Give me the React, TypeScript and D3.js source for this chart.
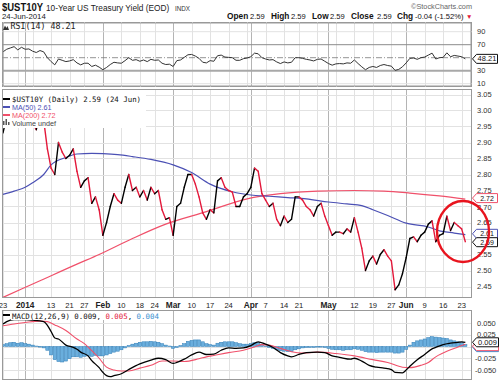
import React from "react";
import * as d3 from "d3";

// ---------- trading calendar (Dec 23 2013 .. Jun 24 2014) ----------
const decDays = [23, 24, 26, 27, 30, 31];
const janDays = [2, 3, 6, 7, 8, 9, 10, 13, 14, 15, 16, 17, 21, 22, 23, 24, 27, 28, 29, 30, 31];
const febDays = [3, 4, 5, 6, 7, 10, 11, 12, 13, 14, 18, 19, 20, 21, 24, 25, 26, 27, 28];
const marDays = [3, 4, 5, 6, 7, 10, 11, 12, 13, 14, 17, 18, 19, 20, 21, 24, 25, 26, 27, 28, 31];
const aprDays = [1, 2, 3, 4, 7, 8, 9, 10, 11, 14, 15, 16, 17, 21, 22, 23, 24, 25, 28, 29, 30];
const mayDays = [1, 2, 5, 6, 7, 8, 9, 12, 13, 14, 15, 16, 19, 20, 21, 22, 23, 27, 28, 29, 30];
const junDays = [2, 3, 4, 5, 6, 9, 10, 11, 12, 13, 16, 17, 18, 19, 20, 23, 24];

const pad = (n: number) => (n < 10 ? "0" + n : "" + n);
const tradingDays: string[] = [
  ...decDays.map((d) => `2013-12-${pad(d)}`),
  ...janDays.map((d) => `2014-01-${pad(d)}`),
  ...febDays.map((d) => `2014-02-${pad(d)}`),
  ...marDays.map((d) => `2014-03-${pad(d)}`),
  ...aprDays.map((d) => `2014-04-${pad(d)}`),
  ...mayDays.map((d) => `2014-05-${pad(d)}`),
  ...junDays.map((d) => `2014-06-${pad(d)}`),
];

// ---------- daily closes ----------
const closes = [
  2.93, 2.98, 3.0, 3.03, 2.97, 3.03, 2.99, 3.0, 2.96, 2.94,
  2.99, 2.97, 2.88, 2.82, 2.8, 2.9, 2.87, 2.85, 2.86, 2.88,
  2.81, 2.76, 2.78, 2.79, 2.71, 2.73, 2.69, 2.61, 2.65, 2.7,
  2.74, 2.72, 2.71, 2.76, 2.8, 2.75, 2.76, 2.73, 2.75, 2.72,
  2.76, 2.74, 2.75, 2.69, 2.66, 2.665, 2.61, 2.7, 2.71, 2.76,
  2.8, 2.8, 2.77, 2.73, 2.68, 2.66, 2.69, 2.68, 2.78, 2.79,
  2.76, 2.75, 2.745, 2.7, 2.7, 2.73, 2.74, 2.76, 2.82, 2.81,
  2.74, 2.72, 2.7, 2.71, 2.66, 2.64, 2.67, 2.65, 2.66, 2.73,
  2.73, 2.72, 2.7, 2.69, 2.67, 2.7, 2.71, 2.67, 2.64, 2.61,
  2.62, 2.62, 2.615, 2.63, 2.62, 2.665, 2.62, 2.57, 2.5, 2.53,
  2.545, 2.52, 2.55, 2.565, 2.545, 2.53, 2.44, 2.455, 2.49, 2.54,
  2.6, 2.605, 2.59, 2.61, 2.62, 2.645, 2.655, 2.59, 2.61, 2.615,
  2.67, 2.625, 2.65, 2.64, 2.63, 2.59,
];

// ---------- moving averages (trading-day number, value) ----------
const ma50Day = [0, 3, 6, 8, 11, 13, 17, 20, 24, 27, 31, 35, 40, 46, 51, 56, 62, 67, 72, 77, 82, 88, 93, 97, 100, 104, 109, 115, 118, 122, 125];
const ma50Val = [2.738, 2.748, 2.76, 2.774, 2.8, 2.83, 2.853, 2.864, 2.866, 2.865, 2.862, 2.856, 2.847, 2.83, 2.806, 2.77, 2.746, 2.736, 2.732, 2.728, 2.724, 2.714, 2.708, 2.703, 2.69, 2.672, 2.648, 2.636, 2.624, 2.617, 2.612];
const ma200Day = [0, 10, 20, 26, 35, 44, 55, 66, 75, 85, 95, 103, 110, 118, 125];
const ma200Val = [2.416, 2.468, 2.52, 2.55, 2.6, 2.645, 2.684, 2.724, 2.74, 2.748, 2.75, 2.748, 2.742, 2.733, 2.723];

// ---------- RSI(14) daily ----------
const rsiValues = [
  59, 63, 65, 67, 62, 66, 63, 63.5, 60, 58,
  61, 59, 50, 44, 39, 48, 46, 44, 45, 47,
  42, 39, 41.5, 41.5, 36.5, 38.5, 35.5, 31.5, 35, 39.5,
  43, 42, 41.5, 45.5, 50, 46, 47, 44.5, 46.5, 44,
  47.5, 46, 46.5, 41.5, 39.5, 40, 36.5, 45.5, 46.5, 50.5,
  54.5, 55, 52.5, 49, 43, 42, 45.5, 44.5, 53, 54,
  51, 50.5, 50, 46, 46, 48.5, 49.5, 51.5, 57, 56,
  50, 48, 46.5, 47, 43.5, 41, 43.5, 42, 43, 50,
  50, 49, 47.5, 46.5, 45, 47.5, 48, 44.5, 41, 38.5,
  40.5, 41, 40.5, 42, 41.5, 46.5, 41, 36, 31.5, 35,
  36.5, 35, 38, 39.5, 38, 37, 30.5, 32, 36, 42,
  49, 49.5, 47.5, 50, 51, 54, 57, 48, 50, 50.5,
  57.5, 51.5, 53.5, 52.5, 51.5, 48.21,
];

// ---------- MACD(12,26,9) ----------
const macdDay = [0, 1, 3, 6, 8, 11, 12, 13, 14, 15, 17, 19, 20, 21, 23, 24, 26, 27, 28, 29, 30, 32, 34, 37, 40, 42, 44, 46, 47, 49, 51, 53, 55, 57, 59, 61, 63, 65, 67, 69, 71, 73, 75, 77, 78, 80, 82, 85, 87, 89, 91, 94, 95, 97, 99, 101, 103, 105, 106, 108, 109, 110, 112, 114, 116, 117, 119, 121, 123, 124, 125];
const macdVal = [0.048, 0.053, 0.057, 0.057, 0.056, 0.053, 0.045, 0.032, 0.018, 0.016, 0.003, -0.002, -0.006, -0.012, -0.02, -0.03, -0.045, -0.055, -0.062, -0.064, -0.062, -0.058, -0.049, -0.037, -0.029, -0.025, -0.028, -0.036, -0.034, -0.027, -0.018, -0.012, -0.017, -0.016, -0.008, -0.003, -0.004, -0.003, 0.002, 0.01, 0.005, -0.002, -0.013, -0.02, -0.022, -0.017, -0.013, -0.012, -0.013, -0.02, -0.023, -0.027, -0.025, -0.031, -0.04, -0.044, -0.046, -0.049, -0.055, -0.056, -0.05, -0.042, -0.028, -0.017, -0.005, -0.002, 0.004, 0.007, 0.009, 0.01, 0.009];
const signalDay = [0, 3, 6, 10, 12, 14, 17, 20, 22, 24, 26, 28, 30, 32, 34, 37, 40, 43, 46, 49, 53, 55, 57, 61, 65, 68, 70, 72, 75, 78, 81, 85, 90, 95, 100, 104, 108, 110, 113, 115, 117, 119, 121, 123, 125];
const signalVal = [0.044, 0.048, 0.051, 0.054, 0.053, 0.046, 0.034, 0.016, 0.006, -0.009, -0.025, -0.044, -0.05, -0.052, -0.052, -0.046, -0.04, -0.031, -0.031, -0.032, -0.026, -0.022, -0.019, -0.013, -0.008, -0.001, 0.004, 0.003, -0.004, -0.011, -0.014, -0.012, -0.015, -0.02, -0.028, -0.034, -0.044, -0.045, -0.04, -0.034, -0.022, -0.014, -0.007, -0.001, 0.005];
const histValues = [
  0.004, 0.006, 0.008, 0.009, 0.007, 0.008, 0.006, 0.005, 0.003, 0.001,
  0, -0.003, -0.008, -0.018, -0.028, -0.032, -0.033, -0.031, -0.026, -0.022,
  -0.022, -0.023, -0.021, -0.02, -0.021, -0.019, -0.02, -0.02, -0.018, -0.015,
  -0.012, -0.01, -0.007, -0.003, 0.002, 0.005, 0.007, 0.009, 0.01, 0.01,
  0.011, 0.01, 0.009, 0.006, 0.003, 0.001, -0.004, -0.002, 0.002, 0.006,
  0.011, 0.013, 0.014, 0.014, 0.01, 0.006, 0.004, 0.003, 0.007, 0.009,
  0.01, 0.01, 0.01, 0.008, 0.006, 0.005, 0.005, 0.006, 0.008, 0.008,
  0.004, 0.001, -0.002, -0.004, -0.007, -0.009, -0.01, -0.011, -0.011, -0.007,
  -0.005, -0.003, -0.002, -0.002, -0.002, -0.001, -0.001, -0.002, -0.004, -0.006,
  -0.007, -0.007, -0.008, -0.007, -0.007, -0.005, -0.006, -0.008, -0.011, -0.012,
  -0.012, -0.013, -0.012, -0.012, -0.012, -0.012, -0.014, -0.014, -0.012, -0.006,
  0.003, 0.009, 0.012, 0.014, 0.016, 0.019, 0.021, 0.02, 0.019, 0.018,
  0.017, 0.014, 0.012, 0.01, 0.008, 0.004,
];

// ---------- axes ----------
const tickDates = ["2013-12-23", "2014-01-02", "2014-01-13", "2014-01-21", "2014-01-27", "2014-02-03", "2014-02-10", "2014-02-18", "2014-02-24", "2014-03-03", "2014-03-10", "2014-03-17", "2014-03-24", "2014-04-01", "2014-04-07", "2014-04-14", "2014-04-21", "2014-05-01", "2014-05-12", "2014-05-19", "2014-05-27", "2014-06-02", "2014-06-09", "2014-06-16", "2014-06-23"];
const tickLabels = ["23", "2014", "13", "21", "27", "Feb", "10", "18", "24", "Mar", "10", "17", "24", "Apr", "7", "14", "21", "May", "12", "19", "27", "Jun", "9", "16", "23"];
const extraGridDates = ["2013-12-30", "2014-01-06", "2014-03-31", "2014-04-28", "2014-05-05"];
const monthStartDates = ["2014-01-02", "2014-02-03", "2014-03-03", "2014-04-01", "2014-05-01", "2014-06-02"];
const priceTicks = [2.45, 2.5, 2.55, 2.6, 2.65, 2.7, 2.75, 2.8, 2.85, 2.9, 2.95, 3.0, 3.05];
const priceHiddenLabels = [2.6]; // covered by the value tags in the reference
const rsiTicks = [90, 70, 30, 10];
const macdTicks = [0.05, 0.025, -0.025, -0.05];

const SANS = "'Liberation Sans', Arial, sans-serif";
const MONO = "'DejaVu Sans Mono', monospace";
const RED = "#e3193b";
const MA50C = "#4b50b4";
const MA200C = "#f0506a";

export default function App() {
  const W = 499, H = 381;
  const left = 2, right = 472;
  const rsiTop = 22, rsiBot = 87;
  const mainTop = 89, mainBot = 298;
  const macdTop = 310, macdBot = 380;

  const x = d3.scaleLinear().domain([-0.27, 126.8]).range([left, right]);
  const yP = d3.scaleLinear().domain([2.45, 3.05]).range([286.5, 94.5]);
  const yR = d3.scaleLinear().domain([10, 90]).range([83.7, 31.7]);
  const yM = d3.scaleLinear().domain([-0.05, 0.05]).range([370, 323]);
  const idx = (d: string) => tradingDays.indexOf(d);

  const gridDates = [...tickDates, ...extraGridDates];

  const lineXY = d3.line<[number, number]>().x((d) => d[0]).y((d) => d[1]);
  const smooth = d3.line<[number, number]>().x((d) => d[0]).y((d) => d[1]).curve(d3.curveMonotoneX);

  const ma50Path = smooth(ma50Day.map((d, i) => [x(d), yP(ma50Val[i])]));
  const ma200Path = smooth(ma200Day.map((d, i) => [x(d), yP(ma200Val[i])]));
  const rsiPath = lineXY(rsiValues.map((v, i) => [x(i), yR(v)]));
  const macdPath = smooth(macdDay.map((d, i) => [x(d), yM(macdVal[i])]));
  const signalPath = smooth(signalDay.map((d, i) => [x(d), yM(signalVal[i])]));

  const vGrid = (top: number, bot: number) =>
    gridDates.map((d) => {
      const xx = Math.round(x(idx(d))) + 0.5;
      const month = monthStartDates.includes(d);
      return <line key={d} x1={xx} x2={xx} y1={top} y2={bot} stroke={month ? "#b4b4b4" : "#e2e2e2"} strokeWidth={1} />;
    });

  const tagShape = (y: number, w: number) => {
    const x0 = right + 0.5;
    const h = 9;
    return `M${x0},${y} L${x0 + 4},${y - h / 2} L${x0 + w},${y - h / 2} L${x0 + w},${y + h / 2} L${x0 + 4},${y + h / 2} Z`;
  };
  const tag = (y: number, label: string | null, color: string, w = 25, key?: string, fs = 7.5) => {
    const x0 = right + 0.5;
    return (
      <g key={key || String(label) + color}>
        <path d={tagShape(y, w)} fill="#fff" stroke={color} strokeWidth={1} />
        {label && (
          <text x={x0 + 4 + (w - 4) / 2} y={y} dy="0.35em" textAnchor="middle" fontFamily={SANS} fontSize={fs} fill="#111">
            {label}
          </text>
        )}
      </g>
    );
  };

  const segs = closes.slice(1).map((c, j) => {
    const i = j + 1;
    const up = c >= closes[i - 1];
    return (
      <line key={i} x1={x(i - 1)} y1={yP(closes[i - 1])} x2={x(i)} y2={yP(c)} stroke={up ? "#000" : RED} strokeWidth={1.4} strokeLinecap="round" />
    );
  });

  const barW = 3.2;

  return (
    <svg width={W} height={H} viewBox={`0 0 ${W} ${H}`} style={{ position: "absolute", left: 0, top: 0, background: "#fff" }}>
      <defs>
        <clipPath id="clipRsi"><rect x={left} y={rsiTop} width={right - left} height={rsiBot - rsiTop} /></clipPath>
        <clipPath id="clipMain"><rect x={left} y={mainTop} width={right - left} height={mainBot - mainTop} /></clipPath>
        <clipPath id="clipMacd"><rect x={left} y={macdTop} width={right - left} height={macdBot - macdTop} /></clipPath>
      </defs>
      <rect x={0} y={0} width={W} height={H} fill="#fff" />

      {/* ---------- header ---------- */}
      <text x={2} y={11} fontFamily={SANS} fontWeight="bold" fontSize={11} textLength={41} lengthAdjust="spacingAndGlyphs" fill="#111">$UST10Y</text>
      <text x={46} y={11} fontFamily={SANS} fontSize={8.3} fill="#222">10-Year US Treasury Yield (EOD)</text>
      <text x={175} y={11} fontFamily={SANS} fontSize={6.3} fill="#333">INDX</text>
      <text x={472} y={9} textAnchor="end" fontFamily={SANS} fontSize={7.3} fill="#666">©StockCharts.com</text>
      <text x={2} y={18.5} fontFamily={SANS} fontSize={7.8} fill="#222">24-Jun-2014</text>
      {[
        ["Open", 227, true], ["2.59", 250, false], ["High", 271, true], ["2.59", 291, false],
        ["Low", 312, true], ["2.59", 330, false], ["Close", 351, true], ["2.59", 377, false],
        ["Chg", 397, true], ["-0.04 (-1.52%)", 415, false],
      ].map(([t, xx, b], i) => (
        <text key={i} x={xx as number} y={18.5} fontFamily={SANS} fontSize={b ? 8.3 : 7.6} fontWeight={b ? "bold" : "normal"} fill="#111">{t as string}</text>
      ))}
      <text x={466} y={18.5} fontFamily={SANS} fontSize={6.5} fill={RED}>▼</text>

      {/* ---------- RSI panel ---------- */}
      <rect x={left + 0.5} y={rsiTop + 0.5} width={right - left - 1} height={rsiBot - rsiTop - 1} fill="#fff" stroke="#999" />
      {vGrid(rsiTop, rsiBot)}
      <line x1={left} x2={right} y1={yR(90)} y2={yR(90)} stroke="#e2e2e2" />
      <line x1={left} x2={right} y1={yR(10)} y2={yR(10)} stroke="#e2e2e2" />
      <line x1={left} x2={right} y1={yR(70)} y2={yR(70)} stroke="#8c8c8c" strokeWidth={1} />
      <line x1={left} x2={right} y1={yR(30)} y2={yR(30)} stroke="#a8a8a8" strokeWidth={2} />
      <line x1={left} x2={right} y1={yR(50)} y2={yR(50)} stroke="#777" strokeWidth={0.8} strokeDasharray="6,2,1,2" />
      <path d={rsiPath || ""} fill="none" stroke="#333" strokeWidth={1} clipPath="url(#clipRsi)" />
      <rect x={left + 1} y={rsiTop + 1} width={right - left - 2} height={rsiBot - rsiTop - 2} fill="none" stroke="#999" />
      <g>
        <path d="M3,30 L5,25.5 L6.3,28 L7.5,26 L9,30 Z" fill="#333" />
        <text x={10.5} y={29} fontFamily={MONO} fontSize={8.3} fill="#222">RSI(14) 48.21</text>
      </g>
      {rsiTicks.map((t) => (
        <text key={t} x={477} y={yR(t)} dy="0.35em" fontFamily={SANS} fontSize={7.5} fill="#333">{t}</text>
      ))}
      {tag(yR(48.21), "48.21", "#111", 25)}

      {/* ---------- main price panel ---------- */}
      <rect x={left + 0.5} y={mainTop + 0.5} width={right - left - 1} height={mainBot - mainTop - 1} fill="#fff" stroke="#999" />
      {vGrid(mainTop, mainBot)}
      {priceTicks.map((t) => (
        <line key={t} x1={left} x2={right} y1={Math.round(yP(t)) + 0.5} y2={Math.round(yP(t)) + 0.5} stroke="#e2e2e2" />
      ))}
      <g clipPath="url(#clipMain)">
        <path d={ma200Path || ""} fill="none" stroke={MA200C} strokeWidth={1.2} />
        <path d={ma50Path || ""} fill="none" stroke={MA50C} strokeWidth={1.2} />
        {segs}
      </g>
      <rect x={left + 0.5} y={mainTop + 0.5} width={right - left - 1} height={mainBot - mainTop - 1} fill="none" stroke="#999" />
      {/* legend */}
      <rect x={left + 1} y={mainTop + 1} width={143} height={38} fill="#fff" />
      <line x1={3} x2={10} y1={99} y2={99} stroke="#000" strokeWidth={2} />
      <text x={12} y={101.6} fontFamily={MONO} fontSize={7.4} fill="#111">$UST10Y (Daily) 2.59 (24 Jun)</text>
      <line x1={3} x2={10} y1={107} y2={107} stroke={MA50C} strokeWidth={2} />
      <text x={12} y={109.5} fontFamily={SANS} fontSize={7.2} fill={MA50C}>MA(50) 2.61</text>
      <line x1={3} x2={10} y1={115} y2={115} stroke={MA200C} strokeWidth={2} />
      <text x={12} y={117.5} fontFamily={SANS} fontSize={7.2} fill={MA200C}>MA(200) 2.72</text>
      <rect x={3} y={121} width={1.5} height={4} fill="#555" />
      <rect x={5.5} y={119} width={1.5} height={6} fill="#555" />
      <rect x={8} y={122} width={1.5} height={3} fill="#555" />
      <text x={12} y={125.5} fontFamily={SANS} fontSize={7.2} fill="#444">Volume undef</text>
      {priceTicks.filter((t) => !priceHiddenLabels.includes(t)).map((t) => (
        <text key={t} x={477} y={yP(t) + (t === 2.7 ? 1 : 0)} dy="0.35em" fontFamily={SANS} fontSize={7.5} fill="#333">{t.toFixed(2)}</text>
      ))}
      {tag(yP(2.72) - 2, "2.72", MA200C, 25, undefined, 7)}
      {tag(yP(2.61) - 1.5, "2.61", MA50C, 25, undefined, 7)}
      {tag(yP(2.59) + 0.5, "2.59", "#111", 25, undefined, 7)}

      {/* ---------- x axis labels ---------- */}
      {tickDates.map((d, i) => {
        const lab = tickLabels[i];
        const bold = isNaN(Number(lab)) || lab === "2014";
        return (
          <text key={d} x={x(idx(d))} y={308} textAnchor="middle" fontFamily={SANS} fontSize={bold ? 8.3 : 7.6} fontWeight={bold ? "bold" : "normal"} fill="#222">
            {lab}
          </text>
        );
      })}

      {/* ---------- MACD panel ---------- */}
      <rect x={left + 0.5} y={macdTop + 0.5} width={right - left - 1} height={macdBot - macdTop - 1} fill="#fff" stroke="#999" />
      {vGrid(macdTop, macdBot)}
      {[0.05, 0.025, 0, -0.025, -0.05].map((t) => (
        <line key={t} x1={left} x2={right} y1={Math.round(yM(t)) + 0.5} y2={Math.round(yM(t)) + 0.5} stroke="#e2e2e2" />
      ))}
      <g clipPath="url(#clipMacd)">
        {histValues.map((v, i) => {
          const y0 = yM(0), y1 = yM(v);
          return (
            <rect key={i} x={x(i) - barW / 2} y={Math.min(y0, y1)} width={barW} height={Math.max(0.6, Math.abs(y1 - y0))} fill="#6aaedd" stroke="#2f7db6" strokeWidth={0.5} />
          );
        })}
        <path d={signalPath || ""} fill="none" stroke={MA200C} strokeWidth={1.1} />
        <path d={macdPath || ""} fill="none" stroke="#000" strokeWidth={1.3} />
      </g>
      <rect x={left + 0.5} y={macdTop + 0.5} width={right - left - 1} height={macdBot - macdTop - 1} fill="none" stroke="#999" />
      <rect x={11} y={311} width={155} height={9} fill="#fff" />
      <line x1={3} x2={10} y1={315} y2={315} stroke="#000" strokeWidth={2} />
      <text x={12} y={318.5} fontFamily={MONO} fontSize={7.4} fill="#111">
        MACD(12,26,9) 0.009, <tspan fill={RED}>0.005</tspan><tspan fill="#111">, </tspan><tspan fill="#3a8fd0">0.004</tspan>
      </text>
      {macdTicks.map((t) => (
        <text key={t} x={t < 0 ? 475 : 477} y={yM(t)} dy="0.35em" fontFamily={SANS} fontSize={7.5} fill="#333">{t.toFixed(3)}</text>
      ))}
      {tag(yM(0.004) + 2.5, null, "#3a8fd0", 26, "b")}
      {tag(yM(0.005) + 2, null, MA200C, 26, "r")}
      {tag(yM(0.009), "0.009", "#111", 26, "k")}

      {/* ---------- annotation ---------- */}
      <ellipse cx={463} cy={231.5} rx={26} ry={30.5} fill="none" stroke="#e8141e" strokeWidth={2.4} />
    </svg>
  );
}
